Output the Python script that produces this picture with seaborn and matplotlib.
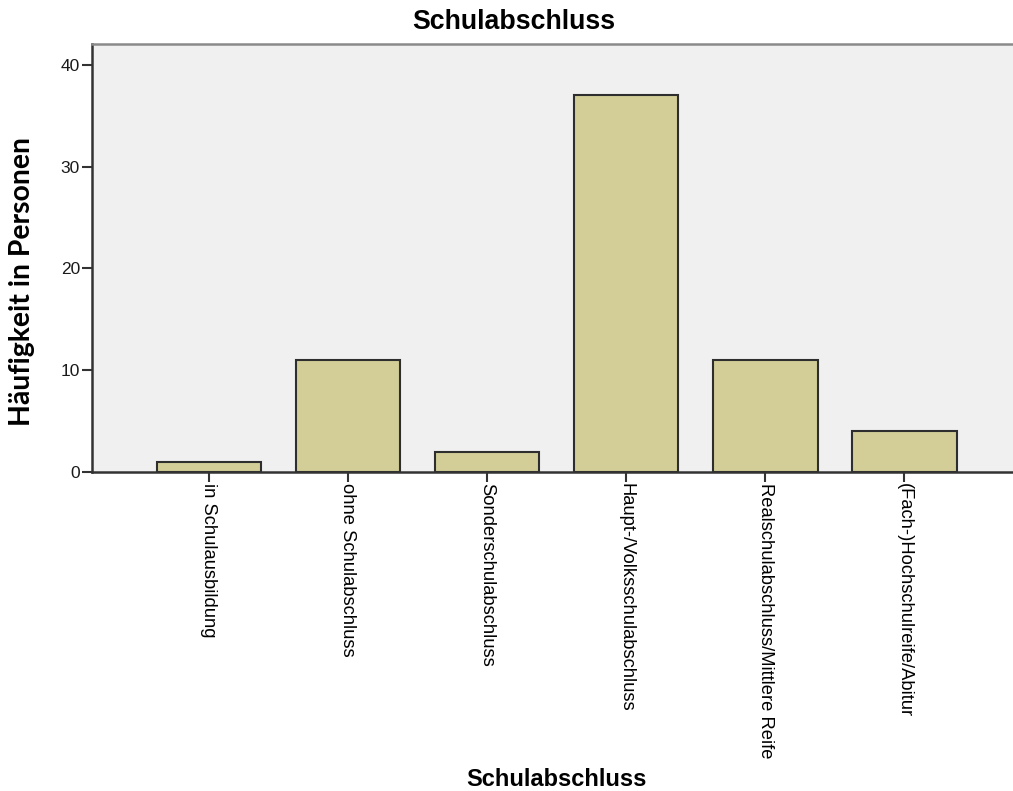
import matplotlib
matplotlib.use("Agg")
import matplotlib.pyplot as plt
import seaborn as sns
import pandas as pd

categories = ["in Schulausbildung", "ohne Schulabschluss", "Sonderschulabschluss",
              "Haupt-/Volksschulabschluss", "Realschulabschluss/Mittlere Reife",
              "(Fach-)Hochschulreife/Abitur"]
counts = [1, 11, 2, 37, 11, 4]
yticks = [0, 10, 20, 30, 40]

sns.set_theme(style="white")
plt.rcParams['font.family'] = ['Liberation Sans', 'DejaVu Sans']
plt.rcParams['text.color'] = 'black'

df = pd.DataFrame({"cat": categories, "n": counts})

fig = plt.figure(figsize=(10.13, 7.91), dpi=100)
ax = fig.add_axes([92/1013, 1-472/791, 1-92/1013, (472-44)/791])
ax.set_facecolor("#f0f0f0")

sns.barplot(data=df, x="cat", y="n", ax=ax, color="#d3ce98", saturation=1,
            edgecolor="#2e2e2e", linewidth=1.5, width=0.75)

ax.set_ylim(0, 42.06)
ax.set_xlim(-0.84, 5.78)
ax.set_yticks(yticks)
ax.set_yticklabels([str(v) for v in yticks], fontsize=12.5, color="#1a1a1a")
ax.set_xticks(range(len(categories)))
ax.set_xticklabels(categories, rotation=270, ha="center", va="top", fontsize=13.2, color="#000000")
ax.tick_params(axis="both", which="major", direction="out", length=7.2, width=1.5,
               color="#333333", bottom=True, left=True)
ax.tick_params(axis="x", pad=0.5)
ax.tick_params(axis="y", pad=1.5)

for s in ["left", "bottom"]:
    ax.spines[s].set_color("#333333")
    ax.spines[s].set_linewidth(1.8)
ax.spines["top"].set_color("#8a8a8a")
ax.spines["top"].set_linewidth(1.8)
ax.spines["right"].set_visible(False)

ax.set_xlabel("")
ax.set_ylabel("")
fig.text(514/1013, 1-22/791, "Schulabschluss", ha="center", va="center",
         fontsize=19.3, fontweight="bold", color="black")
fig.text(556/1013, 1-780/791, "Schulabschluss", ha="center", va="center",
         fontsize=17, fontweight="bold", color="black")
fig.text(22/1013, 1-282/791, "Häufigkeit in Personen", ha="center", va="center",
         rotation=90, fontsize=20.4, fontweight="bold", color="black",
         family=["Lato", "DejaVu Sans"])

fig.savefig("out.png", dpi=100)
